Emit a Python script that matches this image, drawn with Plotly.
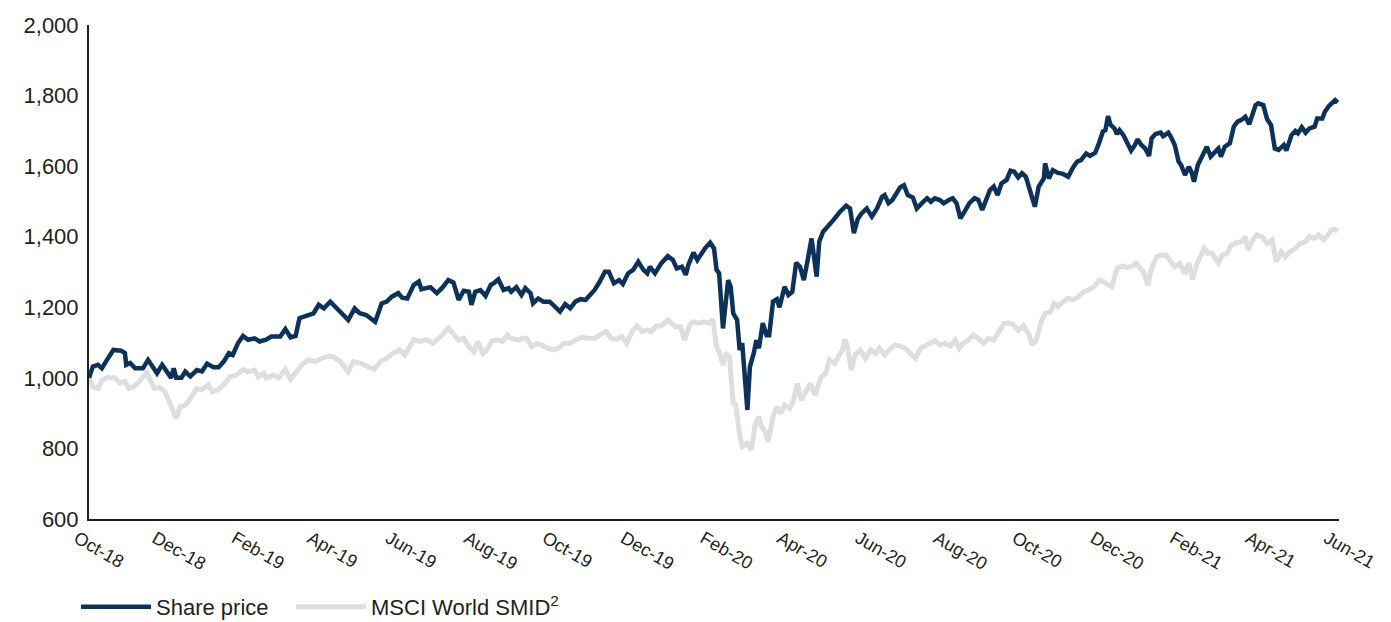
import pandas as pd
import plotly.graph_objects as go

start = pd.Timestamp("2018-10-01")

share_days = [0, 3, 7, 10, 14, 19, 25, 28, 29, 32, 36, 42, 46, 50, 53, 57, 61, 64, 66, 68, 72, 75, 79, 84, 88, 92, 97, 101, 105, 109, 112, 116, 120, 124, 129, 133, 138, 142, 149, 153, 157, 161, 164, 170, 175, 179, 183, 188, 192, 196, 202, 207, 211, 216, 223, 228, 232, 236, 241, 244, 248, 253, 257, 259, 266, 271, 275, 280, 284,
              288, 292, 296, 298, 301, 305, 309, 313, 316, 319, 323, 327, 329, 333, 337, 340, 344, 346, 350, 354, 359, 363, 367, 371, 375, 379, 383, 387, 390, 394, 398, 402, 405, 409, 413, 416, 420, 424, 428, 432, 435, 437, 441, 446, 451, 455, 458, 462, 465,
              467, 471, 474, 476, 480, 484, 487, 489, 491, 494, 496, 498, 500, 502, 505, 507, 509, 511, 513, 515, 518, 520, 522, 525, 528, 530, 533, 536, 538, 542, 545, 548, 551, 554, 557, 560, 563, 567, 569, 572, 576, 580, 585, 590, 593, 596, 599,
              602, 606, 610, 614, 618, 620, 623, 626, 629, 632, 635, 638, 642, 645, 649, 653, 656, 659, 663, 666, 670, 673, 676, 679, 683, 686, 690, 693, 696, 699, 702, 705, 708, 711, 715, 718, 721, 724, 727, 730, 733, 737, 740, 744, 745, 748, 751, 755, 759, 763, 767, 770, 773, 777, 780,
              784, 787, 790, 792, 794, 796, 799, 801, 803, 806, 809, 812, 815, 817, 820, 823, 826, 828, 831, 835, 837, 841, 843, 846, 849, 851, 854, 857, 859, 861, 864, 867, 871, 874, 877, 880, 882, 885, 889, 892, 895, 898, 901, 904, 906, 909, 911, 915, 918, 921, 924, 927, 931, 933, 937, 940, 942, 945, 948, 951, 955, 957, 961, 963, 966, 969, 971, 973]
share_vals = [1000, 1032, 1037, 1027, 1051, 1079, 1077, 1070, 1037, 1042, 1027, 1027, 1051, 1032, 1013, 1037, 1018, 1000, 1027, 1000, 1000, 1018, 1004, 1022, 1018, 1040, 1030, 1030, 1046, 1070, 1065, 1098, 1119, 1108, 1112, 1103, 1108, 1117, 1117, 1138, 1115, 1119, 1169, 1175, 1183, 1207, 1197, 1216, 1202, 1188, 1164, 1197, 1183, 1178, 1159, 1211, 1216, 1230, 1240, 1227, 1225, 1263, 1273, 1251, 1257, 1240, 1254, 1277, 1270,
              1221, 1247, 1244, 1207, 1244, 1249, 1232, 1263, 1270, 1279, 1249, 1254, 1244, 1257, 1235, 1254, 1240, 1211, 1225, 1216, 1216, 1202, 1188, 1209, 1197, 1216, 1223, 1221, 1235, 1249, 1273, 1301, 1301, 1268, 1277, 1266, 1296, 1306, 1329, 1306, 1296, 1315, 1296, 1325, 1345, 1334, 1310, 1315, 1292,
              1320, 1355, 1334, 1345, 1367, 1383, 1367, 1306, 1296, 1140, 1202, 1277, 1258, 1183, 1164, 1079, 1098, 1003, 909, 1032, 1070, 1107, 1084, 1155, 1121, 1121, 1216, 1223, 1200, 1258, 1235, 1244, 1326, 1315, 1277, 1334, 1395, 1287, 1386, 1414, 1433, 1447, 1470, 1488, 1480, 1410, 1450,
              1466, 1480, 1457, 1480, 1513, 1518, 1495, 1504, 1523, 1540, 1546, 1518, 1511, 1480, 1495, 1509, 1499, 1509, 1504, 1495, 1504, 1509, 1495, 1452, 1476, 1495, 1509, 1504, 1476, 1504, 1532, 1542, 1518, 1551, 1561, 1587, 1584, 1568, 1580, 1570, 1532, 1485, 1542, 1565, 1608, 1565, 1589, 1581, 1578, 1570, 1598, 1613, 1617, 1636, 1629,
              1638, 1665, 1698, 1702, 1742, 1717, 1707, 1691, 1702, 1688, 1669, 1644, 1660, 1676, 1660, 1650, 1629, 1679, 1691, 1695, 1685, 1695, 1683, 1660, 1613, 1603, 1575, 1598, 1584, 1556, 1603, 1627, 1655, 1627, 1641, 1650, 1627, 1655, 1665, 1712, 1726, 1731, 1740, 1719, 1740, 1773, 1778, 1773, 1733, 1717, 1650, 1646, 1660, 1644, 1688, 1700, 1693, 1710, 1695, 1707, 1712, 1735, 1735, 1754, 1770, 1783, 1787, 1780]

msci_days = [0, 3, 7, 10, 14, 20, 24, 28, 31, 35, 38, 45, 49, 51, 55, 59, 63, 68, 71, 75, 79, 84, 88, 93, 96, 101, 105, 110, 115, 120, 124, 129, 132, 136, 138, 144, 148, 153, 157, 161, 166, 171, 176, 181, 187, 190, 196, 202, 206, 211, 216, 222, 227, 232, 237, 242, 246, 253, 258, 263, 268, 274, 280,
             285, 288, 292, 296, 300, 303, 307, 310, 314, 318, 322, 326, 329, 335, 338, 341, 345, 349, 353, 357, 362, 366, 370, 375, 379, 384, 389, 394, 400, 403, 407, 411, 415, 419, 423, 427, 431, 435, 438, 442, 446, 451, 457, 461, 464,
             468, 471, 475, 479, 483, 486, 489, 491, 494, 496, 499, 502, 504, 507, 509, 513, 516, 519, 522, 524, 527, 529, 533, 536, 539, 542, 546, 549, 552, 555, 559, 562, 566, 570, 574, 577, 581, 584, 587, 589, 591, 594, 597,
             601, 605, 609, 613, 616, 620, 624, 628, 632, 636, 640, 644, 648, 651, 655, 659, 663, 667, 671, 675, 678, 681, 685, 689, 693, 697, 701, 705, 709, 713, 716, 720, 724, 728, 732, 735, 738, 742, 745, 749, 752, 755, 759, 763, 767, 771, 775, 779, 783,
             787, 790, 794, 797, 801, 805, 809, 813, 816, 819, 822, 825, 828, 832, 835, 839, 842, 846, 850, 854, 857, 860, 863, 867, 869, 872, 875, 880, 883, 887, 890, 894, 898, 901, 903, 907, 910, 914, 918, 922, 925, 929, 932, 936, 940, 944, 948, 951, 955, 958, 962, 965, 968, 971, 973]
msci_vals = [1000, 975, 970, 993, 1000, 1000, 985, 990, 970, 975, 985, 1015, 985, 970, 973, 961, 928, 885, 918, 922, 941, 970, 966, 980, 961, 967, 980, 1003, 1008, 1024, 1017, 1022, 1003, 1013, 1000, 1008, 1000, 1024, 996, 1013, 1037, 1051, 1046, 1055, 1062, 1060, 1046, 1017, 1046, 1042, 1032, 1024, 1046, 1055, 1070, 1079, 1065, 1108, 1103, 1108, 1098, 1117, 1141,
             1118, 1107, 1112, 1088, 1074, 1103, 1069, 1079, 1105, 1107, 1103, 1121, 1112, 1107, 1112, 1112, 1088, 1098, 1093, 1084, 1079, 1084, 1098, 1098, 1107, 1115, 1112, 1112, 1126, 1131, 1112, 1109, 1117, 1098, 1131, 1147, 1131, 1136, 1131, 1147, 1147, 1164, 1145, 1145, 1107,
             1150, 1159, 1155, 1159, 1155, 1166, 1088, 1074, 1036, 1070, 1060, 928, 923, 838, 805, 815, 796, 866, 890, 862, 847, 819, 890, 918, 899, 923, 914, 937, 984, 937, 966, 984, 951, 999, 1013, 1051, 1041, 1060, 1079, 1109, 1088, 1022, 1065,
             1079, 1055, 1079, 1069, 1084, 1065, 1081, 1093, 1090, 1084, 1069, 1055, 1084, 1090, 1098, 1105, 1093, 1098, 1090, 1107, 1084, 1098, 1107, 1121, 1112, 1098, 1112, 1107, 1131, 1154, 1156, 1152, 1135, 1147, 1126, 1093, 1107, 1159, 1183, 1187, 1211, 1202, 1216, 1225, 1221, 1230, 1244, 1249, 1258,
             1277, 1273, 1266, 1258, 1310, 1317, 1313, 1317, 1325, 1310, 1298, 1263, 1310, 1343, 1348, 1348, 1334, 1315, 1325, 1294, 1325, 1279, 1320, 1348, 1367, 1353, 1353, 1326, 1348, 1353, 1376, 1383, 1386, 1400, 1362, 1391, 1405, 1400, 1381, 1391, 1329, 1358, 1343, 1358, 1367, 1381, 1386, 1400, 1395, 1405, 1391, 1402, 1419, 1421, 1414]

share_dates = start + pd.to_timedelta(share_days, unit="D")
msci_dates = start + pd.to_timedelta(msci_days, unit="D")

FONT = "Liberation Sans, Arial, sans-serif"
TXT = "#231f20"

fig = go.Figure()
fig.add_trace(go.Scatter(x=msci_dates, y=msci_vals, mode="lines", name="MSCI World SMID<sup>2</sup>",
                         line=dict(color="#dddee0", width=5), legend="legend2"))
fig.add_trace(go.Scatter(x=share_dates, y=share_vals, mode="lines", name="Share price",
                         line=dict(color="#0d3259", width=4.5), legend="legend"))

leg_common = dict(orientation="h", y=-0.178, xanchor="left", yanchor="middle",
                  font=dict(size=22, color=TXT), itemwidth=70, bgcolor="rgba(0,0,0,0)")

fig.update_layout(
    width=1391, height=622,
    margin=dict(l=89, r=52, t=25, b=103, autoexpand=False),
    paper_bgcolor="white", plot_bgcolor="white",
    font=dict(family=FONT, color=TXT),
    showlegend=True,
    legend=dict(x=-0.0104, **leg_common),
    legend2=dict(x=0.1616, **leg_common),
    xaxis=dict(type="date", range=["2018-10-01", "2021-06-01"], tick0="2018-10-01", dtick="M2",
               tickformat="%b-%y", tickangle=30, showgrid=False, zeroline=False,
               showline=True, linecolor="#231f20", linewidth=2, ticks="",
               ticklabelshift=-12, automargin=False,
               tickfont=dict(size=18, color=TXT)),
    yaxis=dict(range=[600, 2000], dtick=200, tickformat=",", showgrid=False, zeroline=False,
               showline=True, linecolor="#231f20", linewidth=2, ticks="",
               ticklabelstandoff=4, automargin=False,
               tickfont=dict(size=22, color=TXT)),
)

fig.write_html("out.html")
